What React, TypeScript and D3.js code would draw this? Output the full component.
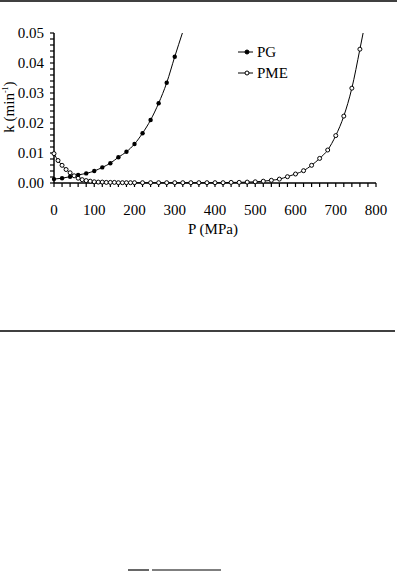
import * as d3 from "d3";
import React, { useEffect, useRef } from "react";

// PG (filled circles), k in min^-1
const pgP = [0, 20, 40, 60, 80, 100, 120, 140, 160, 180, 200, 220, 240, 260, 280, 300];
const pgK = [0.0013, 0.0016, 0.0021, 0.0027, 0.0032, 0.004, 0.0052, 0.0066, 0.0086, 0.0104, 0.013, 0.0166, 0.021, 0.0266, 0.0334, 0.0421];
const pgCurveEnd = [319, 0.05];

// PME (open circles)
const pmeP = [
  0, 10, 20, 30, 40, 50, 60, 70, 80, 90, 100, 110, 120, 130, 140, 150, 160, 170, 180, 190, 200,
  220, 240, 260, 280, 300, 320, 340, 360, 380, 400, 420, 440, 460, 480, 500, 520, 540, 560, 580,
  600, 620, 640, 660, 680, 700, 720, 740, 760,
];
const pmeK = [
  0.0098, 0.0075, 0.0059, 0.0045, 0.0034, 0.0024, 0.0016, 0.0011, 0.0008, 0.0006, 0.0004, 0.0003,
  0.0003, 0.0002, 0.0002, 0.0002, 0.0001, 0.0001, 0.0001, 0.0001, 0.0001,
  0.0001, 0.0001, 0.0001, 0.0001, 0.0001, 0.0001, 0.0001, 0.0001, 0.0001, 0.0001, 0.0001, 0.0002,
  0.0002, 0.0003, 0.0004, 0.0006, 0.0009, 0.0013, 0.0021,
  0.003, 0.0041, 0.0059, 0.0082, 0.011, 0.0158, 0.0223, 0.0316, 0.0446,
];
const pmeCurveEnd = [768, 0.05];

const xTicks = [0, 100, 200, 300, 400, 500, 600, 700, 800];
const yTicks = [0, 0.01, 0.02, 0.03, 0.04, 0.05];
const seriesNames = ["PG", "PME"];

const App = () => {
  const svgRef = useRef<SVGSVGElement>(null);

  useEffect(() => {
    const width = 397;
    const height = 571;
    const font = "Liberation Serif, Times New Roman, serif";

    const svg = d3.select(svgRef.current).attr("width", width).attr("height", height);
    svg.selectAll("*").remove();

    // page rules of the scanned page
    svg.append("line").attr("x1", 0).attr("x2", 397).attr("y1", 1).attr("y2", 1)
      .attr("stroke", "#000").attr("stroke-width", 1.5);
    svg.append("line").attr("x1", 0).attr("x2", 395).attr("y1", 331).attr("y2", 331)
      .attr("stroke", "#000").attr("stroke-width", 1.5);
    svg.append("line").attr("x1", 128).attr("x2", 149).attr("y1", 570).attr("y2", 570)
      .attr("stroke", "#000").attr("stroke-width", 1.2);
    svg.append("line").attr("x1", 152).attr("x2", 221).attr("y1", 570).attr("y2", 570)
      .attr("stroke", "#000").attr("stroke-width", 1.2);

    const x = d3.scaleLinear().domain([0, 800]).range([54, 376]);
    const y = d3.scaleLinear().domain([0, 0.05]).range([183, 33]);

    const g = svg.append("g");

    // minor ticks
    const xMinor = d3.range(0, 801, 20);
    const yMinor = d3.range(0, 0.0501, 0.002);

    g.append("g")
      .selectAll("line")
      .data(xMinor)
      .join("line")
      .attr("x1", (d) => x(d))
      .attr("x2", (d) => x(d))
      .attr("y1", y(0))
      .attr("y2", y(0) + 4)
      .attr("stroke", "#000")
      .attr("stroke-width", 1.2);

    g.append("g")
      .selectAll("line")
      .data(yMinor)
      .join("line")
      .attr("x1", x(0) - 4)
      .attr("x2", x(0))
      .attr("y1", (d) => y(d))
      .attr("y2", (d) => y(d))
      .attr("stroke", "#000")
      .attr("stroke-width", 1.2);

    // axes lines
    g.append("line").attr("x1", x(0)).attr("x2", x(800)).attr("y1", y(0)).attr("y2", y(0))
      .attr("stroke", "#000").attr("stroke-width", 1.5);
    g.append("line").attr("x1", x(0)).attr("x2", x(0)).attr("y1", y(0)).attr("y2", y(0.05))
      .attr("stroke", "#000").attr("stroke-width", 1.5);

    // tick labels
    g.append("g")
      .selectAll("text")
      .data(xTicks)
      .join("text")
      .attr("x", (d) => x(d))
      .attr("y", 215)
      .attr("text-anchor", "middle")
      .attr("font-family", font)
      .attr("font-size", 15)
      .text((d) => d3.format("d")(d));

    g.append("g")
      .selectAll("text")
      .data(yTicks)
      .join("text")
      .attr("x", 44)
      .attr("y", (d) => y(d) + 5)
      .attr("text-anchor", "end")
      .attr("font-family", font)
      .attr("font-size", 15)
      .text((d) => d3.format(".2f")(d));

    // axis titles
    g.append("text")
      .attr("x", 213)
      .attr("y", 234)
      .attr("text-anchor", "middle")
      .attr("font-family", font)
      .attr("font-size", 15)
      .text("P (MPa)");

    const yTitle = g.append("text")
      .attr("transform", "translate(14,107) rotate(-90)")
      .attr("text-anchor", "middle")
      .attr("font-family", font)
      .attr("font-size", 15);
    yTitle.append("tspan").text("k (min");
    yTitle.append("tspan").attr("font-size", 8).attr("dy", -6).text("-1");
    yTitle.append("tspan").attr("dy", 6).text(")");

    // curves
    const clip = svg.append("clipPath").attr("id", "plotclip");
    clip.append("rect").attr("x", 50).attr("y", y(0.05)).attr("width", 340).attr("height", 160);

    const line = d3
      .line<[number, number]>()
      .x((d) => x(d[0]))
      .y((d) => y(d[1]))
      .curve(d3.curveMonotoneX);

    const pgData: [number, number][] = pgP.map((p, i) => [p, pgK[i]]);
    const pmeData: [number, number][] = pmeP.map((p, i) => [p, pmeK[i]]);

    g.append("path")
      .datum([...pgData, pgCurveEnd as [number, number]])
      .attr("clip-path", "url(#plotclip)")
      .attr("fill", "none")
      .attr("stroke", "#000")
      .attr("stroke-width", 1)
      .attr("d", line);

    g.append("path")
      .datum([...pmeData, pmeCurveEnd as [number, number]])
      .attr("clip-path", "url(#plotclip)")
      .attr("fill", "none")
      .attr("stroke", "#000")
      .attr("stroke-width", 1)
      .attr("d", line);

    // markers
    g.append("g")
      .selectAll("circle")
      .data(pmeData)
      .join("circle")
      .attr("cx", (d) => x(d[0]))
      .attr("cy", (d) => y(d[1]))
      .attr("r", 2)
      .attr("fill", "#fff")
      .attr("stroke", "#000")
      .attr("stroke-width", 1);

    g.append("g")
      .selectAll("circle")
      .data(pgData)
      .join("circle")
      .attr("cx", (d) => x(d[0]))
      .attr("cy", (d) => y(d[1]))
      .attr("r", 2.2)
      .attr("fill", "#000");

    // legend
    const legend = g.append("g");
    seriesNames.forEach((name, i) => {
      const ly = 52 + i * 21;
      legend.append("line").attr("x1", 238).attr("x2", 253).attr("y1", ly).attr("y2", ly)
        .attr("stroke", "#000").attr("stroke-width", 1);
      legend.append("circle")
        .attr("cx", 247)
        .attr("cy", ly)
        .attr("r", 2)
        .attr("fill", i === 0 ? "#000" : "#fff")
        .attr("stroke", "#000")
        .attr("stroke-width", 1);
      legend.append("text")
        .attr("x", 257)
        .attr("y", ly + 5)
        .attr("font-family", font)
        .attr("font-size", 15)
        .text(name);
    });
  }, []);

  return (
    <div style={{ position: "absolute", left: 0, top: 0 }}>
      <svg ref={svgRef} style={{ display: "block" }}></svg>
    </div>
  );
};

export default App;
